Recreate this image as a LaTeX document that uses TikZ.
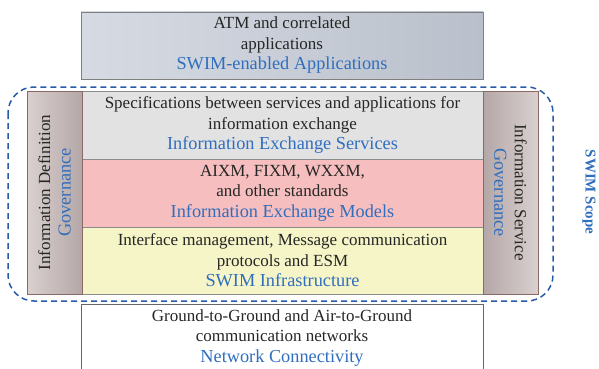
\documentclass[tikz,border=0pt]{standalone}
\usepackage{fontspec}
\setmainfont{Liberation Serif}
\definecolor{swimblue}{RGB}{48,110,190}
\definecolor{dashblue}{RGB}{40,90,170}
\definecolor{rowgray}{RGB}{226,226,226}
\definecolor{rowpink}{RGB}{246,190,190}
\definecolor{rowyellow}{RGB}{246,245,200}
\definecolor{colborder}{RGB}{140,105,100}
\newcommand{\bl}[1]{{\fontsize{18.3}{20.5}\selectfont\textcolor{swimblue}{#1}}}
\begin{document}
\begin{tikzpicture}[x=1pt,y=-1pt,
  every node/.style={font=\fontsize{17}{20.5}\selectfont, align=center, text=black!85, inner sep=0pt},
  layer/.style={draw=black!45, line width=0.6pt, minimum width=401pt, minimum height=68pt},
  sidecol/.style={draw=colborder, line width=0.8pt, minimum width=203pt, minimum height=55pt,
    left color={rgb,255:red,218;green,208;blue,208}, right color={rgb,255:red,180;green,167;blue,167}}]
\useasboundingbox (0,0) rectangle (599,369);
% top application box
\node[layer, draw=black!50, minimum width=402pt, minimum height=67pt,
  left color={rgb,255:red,214;green,219;blue,227}, right color={rgb,255:red,186;green,192;blue,203}]
  (apps) at (282,45.5) {ATM and correlated\\applications\\\bl{SWIM-enabled Applications}};
% middle rows
\node[layer, fill=rowgray] (ies) at (282.5,125)
  {Specifications between services and applications for\\information exchange\\\bl{Information Exchange Services}};
\node[layer, fill=rowpink] (iem) at (282.5,193)
  {AIXM, FIXM, WXXM,\\and other standards\\\bl{Information Exchange Models}};
\node[layer, fill=rowyellow, minimum height=67pt] (infra) at (282.5,260.5)
  {Interface management, Message communication\\protocols and ESM\\\bl{SWIM Infrastructure}};
% side columns
\node[sidecol, rotate=90] (idg) at (54.5,192.5)
  {\fontsize{17}{22}\selectfont Information Definition\\\bl{Governance}};
\node[sidecol, rotate=-90, left color={rgb,255:red,180;green,167;blue,167}, right color={rgb,255:red,218;green,208;blue,208}] (isg) at (510.5,192.5)
  {\fontsize{17}{22}\selectfont Information Service\\\bl{Governance}};
% bottom network box (open at the bottom)
\node[minimum width=402pt, minimum height=68pt] (net) at (282,338)
  {Ground-to-Ground and Air-to-Ground\\communication networks\\\bl{Network Connectivity}};
\draw[black!60, line width=0.6pt] ([yshift=-2pt]net.south west) -- (net.north west) -- (net.north east) -- ([yshift=-2pt]net.south east);
% SWIM scope dashed boundary
\coordinate (scopeA) at (8,87);
\coordinate (scopeB) at (553,301);
\draw[dashblue, line width=1.5pt, dash pattern=on 6pt off 4pt, rounded corners=26pt] (scopeA) rectangle (scopeB);
\node[rotate=-90, text=swimblue, font=\fontsize{15}{18}\selectfont\bfseries] (scope) at (589,192) {SWIM Scope};
\end{tikzpicture}
\end{document}
